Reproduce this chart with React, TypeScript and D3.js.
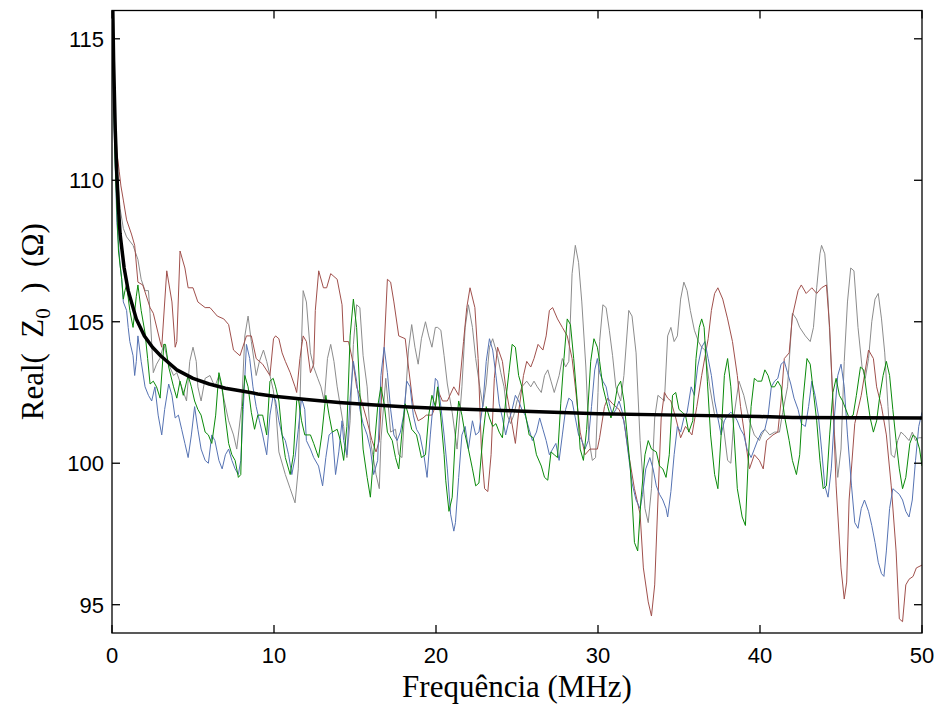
import React from "react";
import * as d3 from "d3";

type P = [number, number];

const xTicks = [0, 10, 20, 30, 40, 50];
const yTicks = [95, 100, 105, 110, 115];

const meanPts: P[] = [[0,117],[0.05,116],[0.1,114.2],[0.2,111.8],[0.3,110.2],[0.4,109],[0.5,108.1],[0.75,106.9],[1,106.1],[1.5,105.1],[2,104.5],[2.5,104.1],[3,103.8],[4,103.3],[5,103.0],[6,102.8],[7,102.65],[8,102.55],[9,102.45],[10,102.37],[12,102.25],[14,102.15],[16,102.07],[18,102.0],[20,101.94],[25,101.85],[30,101.75],[35,101.7],[40,101.65],[42,101.62],[50,101.6]];

const grayPts: P[] = [[0,116.3],[0.15,113],[0.3,110.5],[0.5,109],[0.7,108.3],[0.9,108],[1.3,107.7],[1.6,107.2],[1.8,106.5],[2.04,106.1],[2.25,106.1],[2.35,105.3],[2.55,103.2],[2.75,103.5],[2.95,103.7],[3.2,104.2],[3.5,103.5],[3.8,103.1],[4.0,103.2],[4.3,102.7],[4.6,102.2],[4.8,103.6],[5.0,104.1],[5.2,103.6],[5.3,102.7],[5.5,102.2],[5.75,103.0],[6.05,103.1],[6.35,102.7],[6.6,103.1],[6.9,102.3],[7.2,101.5],[7.5,101.0],[7.7,100.5],[8.0,102],[8.2,104.5],[8.4,105.2],[8.6,104.3],[8.9,103.1],[9.1,103.6],[9.35,104.0],[9.55,103.6],[9.75,103.1],[9.95,102.6],
[10.1,102.0],[10.3,100.4],[10.7,99.6],[11.0,99.1],[11.3,98.6],[11.5,99.8],[11.7,104.3],[11.8,106.1],[12.0,105.7],[12.25,103.9],[12.45,103.4],[12.7,103.0],[12.9,102.7],[13.1,102.2],[13.3,103.7],[13.5,104.2],[13.7,103.6],[13.9,102.7],[14.1,102.0],[14.3,101.3],[14.5,100.2],[14.7,101.5],[14.9,104.2],[15.1,105.6],[15.3,105.5],[15.5,103.8],[15.75,102.7],[15.95,100.8],[16.3,99.6],[16.5,99.1],[16.6,100.8],[16.9,103.0],[17.2,101.1],[17.5,101.2],[17.7,100.3],[17.9,100.2],[18.1,102.2],[18.3,104.0],[18.5,104.9],[18.7,104.1],[18.9,103.5],[19.1,104.4],[19.35,105.0],[19.55,104.5],[19.75,104.1],[19.96,104.8],
[20.1,104.8],[20.3,104.7],[20.5,103.8],[20.7,102.8],[21.0,101.8],[21.3,100.5],[21.6,102.7],[21.8,104.8],[22.0,105.6],[22.25,104.8],[22.45,103.7],[22.7,102.7],[22.9,102.0],[23.1,102.8],[23.3,104.1],[23.5,104.4],[23.8,103.8],[24.0,103.2],[24.2,102.7],[24.4,101.7],[24.6,101.4],[24.8,101.7],[25.0,102.2],[25.3,102.7],[25.6,102.9],[25.85,102.7],[26.05,102.9],[26.25,102.7],[26.5,102.5],[26.7,103.1],[26.9,103.3],[27.1,102.9],[27.3,102.5],[27.6,103.1],[27.8,103.7],[28.0,103.4],[28.2,103.6],[28.4,106.7],[28.6,107.7],[28.8,107.1],[29.0,105.7],[29.25,103.4],[29.45,100.8],[29.65,100.1],[29.85,100.2],
[30.0,102.5],[30.1,104.3],[30.3,105.6],[30.5,105.5],[30.7,104.7],[30.9,103.8],[31.1,102.7],[31.4,102.2],[31.6,103.1],[31.9,105.4],[32.1,105.2],[32.35,103.9],[32.6,100.8],[32.9,98.4],[33.1,97.9],[33.3,99.1],[33.5,101.6],[33.7,102.4],[33.9,102.3],[34.1,102.2],[34.3,104.5],[34.5,104.8],[34.7,104.3],[34.9,104.5],[35.1,105.8],[35.3,106.4],[35.5,106.1],[35.7,105.4],[35.95,104.7],[36.2,104.3],[36.4,104.1],[36.6,104.0],[36.9,102.7],[37.2,101.7],[37.5,101.6],[37.7,101.5],[38.0,100.1],[38.2,100.0],[38.4,101.7],[38.7,102.9],[39.0,102.4],[39.35,101.5],[39.65,101.0],[39.96,100.8],
[40.1,101.0],[40.3,101.2],[40.6,101.0],[40.9,101.1],[41.2,101.1],[41.4,101.8],[41.7,102.7],[42.0,105.3],[42.25,105.1],[42.45,104.8],[42.8,104.5],[43.1,104.3],[43.3,104.8],[43.5,106.2],[43.7,107.4],[43.8,107.7],[44.0,107.4],[44.2,105.8],[44.4,103.4],[44.6,101.0],[44.8,99.5],[45.0,100.5],[45.2,103.6],[45.4,105.7],[45.6,106.9],[45.8,106.8],[46.05,104.8],[46.3,103.4],[46.5,103.0],[46.7,103.7],[46.9,105.0],[47.1,105.8],[47.3,106.0],[47.5,105.1],[47.7,103.9],[47.9,102.0],[48.1,100.3],[48.3,100.2],[48.5,100.8],[48.7,101.1],[48.9,101.0],[49.2,100.8],[49.4,101.1],[49.6,100.8],[49.8,100.9],[50,100.9]];

const brownPts: P[] = [[0,116.3],[0.15,113],[0.3,111],[0.45,110.3],[0.55,109.8],[0.7,109.3],[0.9,108.6],[1.2,108.1],[1.4,107.7],[1.6,106.4],[1.9,106.3],[2.35,105.5],[2.55,105.3],[2.97,104.3],[3.07,104.1],[3.38,106.8],[3.7,105.7],[3.9,104.1],[4.0,104.3],[4.2,107.5],[4.5,106.9],[4.7,106.2],[5.0,106.2],[5.3,105.7],[5.75,105.5],[6.05,105.5],[6.5,105.2],[6.9,105.1],[7.2,104.9],[7.5,104.0],[7.9,103.8],[8.3,104.5],[8.6,104.5],[8.9,103.7],[9.3,103.5],[9.75,103.1],[9.97,104.4],
[10.1,104.5],[10.3,104.4],[10.5,103.9],[10.7,103.6],[11.0,103.2],[11.3,102.7],[11.4,102.5],[11.6,103.7],[11.8,104.5],[12.0,104.3],[12.25,103.2],[12.45,103.5],[12.55,105.4],[12.76,106.8],[13.05,106.2],[13.25,106.2],[13.5,106.7],[13.7,106.6],[13.9,106.5],[14.2,105.6],[14.3,104.3],[14.6,104.3],[14.9,103.5],[15.1,102.7],[15.4,102.2],[15.7,101.6],[16.05,100.8],[16.3,100.4],[16.5,100.8],[16.8,104.1],[17.0,106.5],[17.2,106.4],[17.4,105.7],[17.7,104.5],[18.1,104.4],[18.3,103.4],[18.6,102.0],[18.9,101.5],[19.2,101.6],[19.4,101.7],[19.75,101.7],[19.96,102.0],
[20.1,102.6],[20.4,102.2],[20.7,102.2],[21.1,102.7],[21.4,102.4],[21.7,104.3],[21.9,105.5],[22.1,106.2],[22.4,105.5],[22.6,103.7],[22.8,100.5],[23.0,99.1],[23.2,99.0],[23.4,100.3],[23.6,103.0],[23.8,104.1],[24.1,103.6],[24.3,102.7],[24.6,101.7],[24.9,100.7],[25.1,101.8],[25.4,103.1],[25.6,103.6],[25.85,103.4],[26.05,103.7],[26.3,104.2],[26.6,104.0],[26.8,104.5],[27.0,105.4],[27.2,105.5],[27.5,105.1],[27.8,104.8],[28.1,104.5],[28.4,103.7],[28.6,102.7],[28.9,101.1],[29.2,100.3],[29.5,100.5],[29.96,100.5],
[30.1,100.9],[30.4,102.0],[30.6,102.3],[30.9,102.1],[31.3,101.9],[31.6,101.5],[31.9,100.3],[32.25,99.1],[32.6,98.2],[32.8,96.3],[33.1,95.1],[33.3,94.6],[33.5,95.7],[33.7,98.7],[33.9,101.6],[34.1,102.5],[34.3,102.3],[34.5,102.2],[34.8,101.6],[35.1,100.9],[35.4,101.3],[35.8,101.0],[36.1,102.0],[36.4,103.1],[36.8,104.4],[37.0,105.4],[37.2,106.0],[37.4,106.2],[37.7,105.8],[38.0,105.1],[38.3,104.3],[38.6,103.1],[38.8,102.0],[39.1,100.8],[39.35,99.8],[39.65,100.3],[39.96,100.1],
[40.2,99.8],[40.4,100.8],[40.8,101.0],[41.1,101.1],[41.3,102.2],[41.5,103.7],[41.8,103.9],[42.0,105.2],[42.35,106.1],[42.55,106.3],[42.85,106.0],[43.2,106.2],[43.5,106.0],[43.8,106.2],[44.1,106.3],[44.3,104.8],[44.5,102.2],[44.7,99.2],[45.0,96.3],[45.2,95.2],[45.35,95.8],[45.5,98.7],[45.85,101.4],[46.25,102.4],[46.7,104.0],[47.0,103.7],[47.2,102.7],[47.5,102.0],[47.8,101.0],[48.1,99.2],[48.4,96.9],[48.6,94.5],[48.8,94.4],[49.0,95.7],[49.2,95.9],[49.45,96.0],[49.65,96.3],[50,96.4]];

const greenPts: P[] = [[0,115.5],[0.2,110.5],[0.4,107.5],[0.6,106.5],[0.7,105.8],[0.8,106.1],[0.9,106.3],[1.1,105.4],[1.3,104.8],[1.5,105.9],[1.6,106.3],[1.8,105.4],[2.04,104.6],[2.2,103.7],[2.35,102.8],[2.55,102.9],[2.75,102.7],[2.97,102.3],[3.2,104.2],[3.3,104.2],[3.5,103.4],[3.8,102.7],[4.0,102.3],[4.2,102.9],[4.4,102.4],[4.7,103.1],[4.9,102.7],[5.1,102.2],[5.3,101.9],[5.5,101.7],[5.75,101.1],[5.95,101.0],[6.16,100.7],[6.4,101.7],[6.6,103.2],[6.8,102.7],[7.0,101.6],[7.2,100.7],[7.4,100.3],[7.6,100.1],[7.8,99.5],[7.95,99.6],[8.05,102.0],[8.2,103.1],[8.4,102.7],[8.6,101.8],[8.8,101.2],[9.0,101.7],[9.3,101.7],[9.55,101.0],[9.75,102.9],[9.95,103.0],
[10.1,102.7],[10.3,102.2],[10.5,101.0],[10.7,100.2],[11.0,99.6],[11.2,100.3],[11.4,102.2],[11.5,102.3],[11.7,101.5],[11.9,101.0],[12.25,101.0],[12.45,100.7],[12.75,100.2],[12.95,101.0],[13.2,102.4],[13.4,101.7],[13.6,101.1],[13.9,101.2],[14.1,100.8],[14.3,100.1],[14.5,101.3],[14.7,104.5],[14.9,105.8],[15.1,104.8],[15.3,102.5],[15.5,100.5],[15.75,99.5],[15.95,98.8],[16.15,100.3],[16.4,102.0],[16.6,102.7],[16.8,102.1],[17.0,101.1],[17.3,100.8],[17.5,100.2],[17.7,99.8],[17.9,101.1],[18.1,102.1],[18.3,101.7],[18.5,101.2],[18.8,101.0],[19.1,100.2],[19.35,100.3],[19.55,101.7],[19.75,102.4],[19.96,102.0],
[20.1,102.7],[20.3,101.6],[20.5,100.3],[20.6,99.4],[20.8,98.3],[21.0,98.8],[21.2,101.0],[21.4,102.2],[21.6,101.7],[21.8,101.0],[22.0,100.5],[22.25,99.8],[22.45,99.2],[22.65,99.3],[22.9,101.0],[23.1,102.0],[23.3,101.6],[23.5,101.3],[23.7,101.4],[23.9,101.1],[24.1,100.9],[24.3,102.2],[24.5,103.2],[24.7,104.2],[24.9,104.1],[25.1,103.1],[25.3,102.7],[25.5,101.8],[25.75,101.0],[26.0,100.9],[26.2,100.3],[26.5,99.9],[26.7,99.5],[26.9,99.4],[27.1,100.4],[27.3,100.3],[27.5,100.2],[27.7,102.1],[27.9,103.7],[28.1,105.1],[28.3,104.9],[28.5,103.7],[28.7,102.3],[28.9,100.5],[29.1,100.1],[29.3,101.2],[29.55,103.6],[29.75,104.4],[29.96,104.1],
[30.1,103.6],[30.3,102.7],[30.6,102.0],[30.8,101.6],[31.0,102.0],[31.2,102.7],[31.4,102.9],[31.6,102.2],[31.8,101.0],[32.0,99.8],[32.25,97.2],[32.45,96.9],[32.65,98.7],[32.9,100.3],[33.1,100.8],[33.3,100.5],[33.6,100.4],[33.8,99.9],[34.0,99.8],[34.2,99.5],[34.4,100.3],[34.6,102.4],[34.8,102.5],[35.0,101.9],[35.2,101.8],[35.4,101.7],[35.6,101.1],[35.85,101.5],[36.05,103.7],[36.25,104.8],[36.4,105.1],[36.55,104.8],[36.75,102.9],[36.95,101.0],[37.2,99.6],[37.4,99.1],[37.6,101.0],[37.8,103.1],[38.0,103.7],[38.2,102.7],[38.4,101.0],[38.6,99.1],[38.9,98.1],[39.1,97.8],[39.25,99.8],[39.45,102.0],[39.65,103.0],[39.85,102.9],
[40.1,102.9],[40.3,103.3],[40.5,103.1],[40.7,102.7],[40.9,102.7],[41.1,102.9],[41.3,102.7],[41.5,101.7],[41.8,100.8],[42.0,100.1],[42.25,99.6],[42.45,100.3],[42.65,102.2],[42.9,103.7],[43.1,103.5],[43.3,102.5],[43.5,101.5],[43.7,100.1],[43.9,99.1],[44.1,99.2],[44.3,101.0],[44.5,102.5],[44.7,103.0],[44.9,102.4],[45.1,102.2],[45.3,101.9],[45.5,101.6],[45.75,101.7],[45.95,102.4],[46.2,103.4],[46.4,103.3],[46.6,102.4],[46.8,101.6],[47.0,101.1],[47.2,101.5],[47.4,102.4],[47.6,103.1],[47.8,103.6],[48.0,103.1],[48.2,101.9],[48.4,100.8],[48.6,99.8],[48.8,99.1],[49.0,99.5],[49.25,100.7],[49.45,101.0],[49.65,100.9],[49.85,100.5],[50,99.9]];

const bluePts: P[] = [[0,115.5],[0.15,111.5],[0.3,108.5],[0.5,107],[0.6,106.5],[0.7,105.7],[0.9,105.4],[1.0,104.8],[1.1,104.3],[1.3,103.8],[1.4,103.1],[1.5,103.6],[1.6,104.5],[1.8,103.6],[2.04,102.7],[2.25,102.4],[2.45,102.2],[2.65,102.7],[2.85,101.7],[3.07,101.0],[3.25,101.9],[3.5,102.8],[3.7,102.4],[3.9,101.6],[4.1,101.7],[4.3,101.2],[4.5,100.7],[4.7,100.2],[4.9,101.0],[5.1,102.0],[5.3,101.2],[5.5,100.5],[5.75,100.1],[5.95,100.0],[6.16,101.0],[6.35,100.8],[6.6,100.1],[6.8,99.8],[7.0,100.3],[7.2,100.5],[7.4,100.1],[7.6,99.8],[7.8,99.6],[7.95,100.1],[8.1,101.9],[8.3,104.2],[8.5,103.7],[8.7,102.7],[8.9,102.0],[9.1,101.5],[9.3,101.0],[9.55,100.3],[9.75,101.7],[9.95,102.4],
[10.1,102.2],[10.3,101.5],[10.5,101.0],[10.7,100.8],[10.9,100.3],[11.1,99.6],[11.3,100.2],[11.5,101.2],[11.7,102.3],[11.9,101.9],[12.0,100.8],[12.25,100.5],[12.45,100.2],[12.75,99.9],[13.0,99.2],[13.2,100.2],[13.4,101.0],[13.6,101.1],[13.8,99.6],[14.0,100.4],[14.2,101.5],[14.3,100.8],[14.5,100.3],[14.7,102.3],[14.9,103.6],[15.1,102.9],[15.3,101.9],[15.5,101.4],[15.75,101.0],[15.95,100.5],[16.15,99.6],[16.4,100.1],[16.6,103.1],[16.8,104.1],[17.0,103.2],[17.2,101.9],[17.4,101.0],[17.6,100.8],[17.8,101.1],[18.0,101.7],[18.2,102.9],[18.4,102.7],[18.6,101.7],[18.8,101.2],[19.0,101.0],[19.25,100.3],[19.45,99.5],[19.65,101.0],[19.96,103.0],
[20.1,102.9],[20.3,102.0],[20.5,101.0],[20.7,99.8],[20.9,98.2],[21.1,97.6],[21.2,97.9],[21.4,99.5],[21.6,101.0],[21.8,101.3],[22.0,100.5],[22.25,101.5],[22.45,101.0],[22.65,101.1],[22.9,102.1],[23.1,103.6],[23.3,104.4],[23.5,104.0],[23.7,103.1],[23.9,102.1],[24.1,101.6],[24.3,101.0],[24.5,101.5],[24.7,101.9],[24.9,102.4],[25.1,102.2],[25.3,101.9],[25.5,101.7],[25.75,101.2],[25.95,100.8],[26.2,101.1],[26.4,101.6],[26.6,101.2],[26.8,100.8],[27.0,100.3],[27.2,100.5],[27.4,100.7],[27.6,100.1],[27.8,101.0],[28.0,101.9],[28.2,102.3],[28.4,102.2],[28.6,101.6],[28.8,101.0],[29.0,100.8],[29.2,100.5],[29.4,100.8],[29.6,102.0],[29.8,103.3],[29.96,103.7],
[30.1,103.2],[30.3,102.9],[30.5,102.7],[30.7,102.1],[30.9,101.7],[31.1,101.9],[31.3,102.2],[31.5,101.8],[31.7,101.1],[31.9,100.2],[32.1,99.3],[32.35,98.7],[32.6,98.4],[32.75,98.9],[32.95,99.8],[33.2,100.2],[33.4,99.8],[33.6,99.2],[33.8,98.9],[34.0,98.7],[34.2,98.4],[34.3,98.1],[34.5,99.0],[34.7,100.3],[34.9,101.3],[35.1,101.1],[35.3,101.6],[35.5,101.8],[35.75,102.7],[35.95,102.4],[36.15,103.4],[36.4,104.1],[36.6,104.3],[36.8,103.7],[37.0,103.1],[37.2,102.2],[37.4,101.6],[37.6,101.0],[37.8,101.5],[38.0,101.7],[38.2,101.8],[38.4,101.7],[38.6,101.5],[38.8,101.2],[39.0,101.0],[39.2,100.5],[39.45,100.2],[39.65,100.5],[39.85,100.8],
[40.1,101.1],[40.3,101.2],[40.5,101.7],[40.7,102.7],[40.9,102.9],[41.1,103.0],[41.3,103.5],[41.5,103.6],[41.7,103.2],[41.9,102.8],[42.1,102.3],[42.35,101.9],[42.55,101.4],[42.8,101.3],[43.0,102.0],[43.2,102.9],[43.4,102.4],[43.6,101.7],[43.8,100.5],[44.0,99.2],[44.2,98.8],[44.4,99.8],[44.6,101.7],[44.8,103.1],[45.0,103.5],[45.2,102.7],[45.4,101.0],[45.65,99.2],[45.85,97.9],[46.05,97.7],[46.25,98.4],[46.45,98.7],[46.7,98.3],[46.9,97.8],[47.1,97.2],[47.3,96.5],[47.5,96.1],[47.65,96.0],[47.8,96.9],[48.0,98.4],[48.2,99.1],[48.4,99.0],[48.6,98.9],[48.8,98.7],[49.0,98.3],[49.2,98.1],[49.4,98.7],[49.6,100.1],[49.8,101.3],[50,101.8]];

const series = [
  { name: "gray", pts: grayPts, color: "#8c8c8c", w: 1 },
  { name: "brown", pts: brownPts, color: "#a0504c", w: 1 },
  { name: "blue", pts: bluePts, color: "#5673b3", w: 1 },
  { name: "green", pts: greenPts, color: "#0a8a0a", w: 1 },
];

const W = 937, H = 707;
const L = 112, R = 922, T = 10.5, B = 633;

export default function App() {
  const x = d3.scaleLinear().domain([0, 50]).range([L, R]);
  const y = d3.scaleLinear().domain([94, 116]).range([B, T]);
  const line = d3.line<P>().x(d => x(d[0])).y(d => y(d[1]));
  const tl = 8;
  const serif = "'Liberation Serif', 'Times New Roman', serif";
  return (
    <svg width={W} height={H} style={{ position: "absolute", left: 0, top: 0, background: "#fff" }}>
      <defs>
        <clipPath id="plotclip">
          <rect x={L} y={T} width={R - L} height={B - T} />
        </clipPath>
      </defs>
      <rect x={0} y={0} width={W} height={H} fill="#fff" />
      <g clipPath="url(#plotclip)" fill="none">
        {series.map(s => (
          <path key={s.name} d={line(s.pts) || ""} stroke={s.color} strokeWidth={s.w} strokeLinejoin="round" />
        ))}
        <path d={line(meanPts) || ""} stroke="#000" strokeWidth={3.5} strokeLinejoin="round" />
      </g>
      <rect x={L} y={T} width={R - L} height={B - T} fill="none" stroke="#000" strokeWidth={1.3} />
      <g stroke="#000" strokeWidth={1.3}>
        {xTicks.map(t => (
          <g key={"xt" + t}>
            <line x1={x(t)} x2={x(t)} y1={B} y2={B - tl} />
            <line x1={x(t)} x2={x(t)} y1={T} y2={T + tl} />
          </g>
        ))}
        {yTicks.map(t => (
          <g key={"yt" + t}>
            <line x1={L} x2={L + tl} y1={y(t)} y2={y(t)} />
            <line x1={R} x2={R - tl} y1={y(t)} y2={y(t)} />
          </g>
        ))}
      </g>
      <g fontFamily="'Liberation Sans', Arial, sans-serif" fontSize={22} fill="#000">
        {xTicks.map(t => (
          <text key={"xl" + t} x={x(t)} y={B + 30} textAnchor="middle">{t}</text>
        ))}
        {yTicks.map(t => (
          <text key={"yl" + t} x={L - 8} y={y(t)} dy="0.36em" textAnchor="end">{t}</text>
        ))}
      </g>
      <text x={(L + R) / 2} y={697} textAnchor="middle" fontFamily={serif} fontSize={31} fill="#000">Frequência (MHz)</text>
      <text transform={`translate(43, ${(T + B) / 2}) rotate(-90)`} textAnchor="middle" fontFamily={serif} fontSize={31} fill="#000" style={{ whiteSpace: "pre" }}>
        <tspan>Real(  Z</tspan>
        <tspan fontSize={21} dy="7">0</tspan>
        <tspan dy="-7">  )  (Ω)</tspan>
      </text>
    </svg>
  );
}
